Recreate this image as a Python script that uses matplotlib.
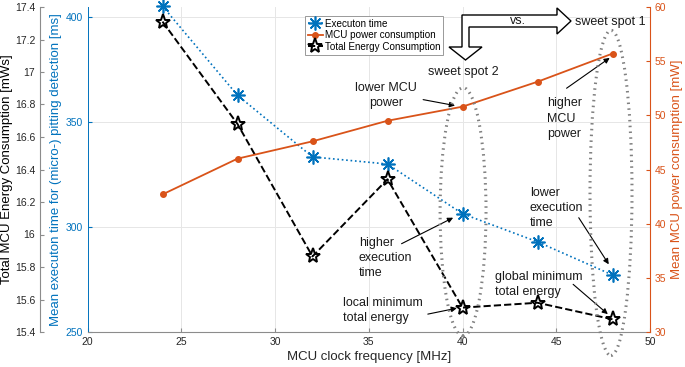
import numpy as np
import matplotlib
matplotlib.use("Agg")
import matplotlib.pyplot as plt
from matplotlib.patches import Ellipse, Polygon
from matplotlib.ticker import FormatStrFormatter

plt.rcParams['font.family'] = ['Liberation Sans', 'DejaVu Sans']

# --- dati ---
freq = [24, 28, 32, 36, 40, 44, 48]                                   # MHz
exec_time = [405.4, 362.9, 333.5, 330.1, 306.4, 293.0, 277.2]         # ms
power = [42.7, 46.0, 47.6, 49.5, 50.8, 53.1, 55.7]                    # mW
energy = [17.31, 16.68, 15.865, 16.34, 15.55, 15.58, 15.478]          # mWs

x_ticks = [20, 25, 30, 35, 40, 45, 50]
time_ticks = [250, 300, 350, 400]
power_ticks = [30, 35, 40, 45, 50, 55, 60]
energy_ticks = np.round(np.arange(15.4, 17.41, 0.2), 1)

BLUE = '#0072BD'
ORANGE = '#D95319'
GREY = '#262626'

fig = plt.figure(figsize=(6.85, 3.67), dpi=100)
ax = fig.add_axes([87.5 / 685, 35 / 367, 562.5 / 685, 325 / 367])

# asse principale: tempo di esecuzione
l1, = ax.plot(freq, exec_time, linestyle=':', color=BLUE, linewidth=1.2,
              marker=(8, 2, 0), markersize=10, markeredgewidth=1.2,
              clip_on=False, zorder=3, label='Executon time')
ax.set_xlim(20, 50)
ax.set_ylim(250, 405)
ax.set_xticks(x_ticks)
ax.set_yticks(time_ticks)
ax.grid(True, color='#e6e6e6', linewidth=0.7)
ax.set_axisbelow(True)
for s in ['top', 'right']:
    ax.spines[s].set_visible(False)
ax.spines['left'].set_color(BLUE)
ax.spines['left'].set_linewidth(0.7)
ax.spines['bottom'].set_color('#8c8c8c')
ax.spines['bottom'].set_linewidth(0.8)
ax.tick_params(axis='y', direction='in', colors=BLUE, labelsize=7.5, length=3)
ax.tick_params(axis='x', direction='in', colors='#8c8c8c', labelcolor=GREY,
               labelsize=7.5, length=3)
ax.set_ylabel('Mean executon time for (micro-) pitting detection [ms]',
              color=BLUE, fontsize=9.5, labelpad=2)
ax.set_xlabel('MCU clock frequency [MHz]', color=GREY, fontsize=9.5, labelpad=3)

# asse esterno: energia totale
ax_e = ax.twinx()
ax_e.spines['left'].set_position(('axes', -47.5 / 562.5))
ax_e.yaxis.set_ticks_position('left')
ax_e.yaxis.set_label_position('left')
for s in ['top', 'right', 'bottom']:
    ax_e.spines[s].set_visible(False)
ax_e.spines['left'].set_color('#8c8c8c')
ax_e.spines['left'].set_linewidth(0.8)
l3, = ax_e.plot(freq, energy, linestyle='--', color='k', linewidth=1.4,
                marker='*', markersize=11, markerfacecolor='none',
                markeredgewidth=1.4, clip_on=False, zorder=3,
                label='Total Energy Consumption')
ax_e.set_ylim(15.4, 17.4)
ax_e.set_yticks(energy_ticks)
ax_e.yaxis.set_major_formatter(FormatStrFormatter('%g'))
ax_e.tick_params(axis='y', direction='in', colors='#8c8c8c', labelcolor=GREY,
                 labelsize=7.5, length=3)
ax_e.set_ylabel('Total MCU Energy Consumption [mWs]', color='k',
                fontsize=9.5, labelpad=1)

# asse destro: potenza
ax_p = ax.twinx()
for s in ['top', 'left', 'bottom']:
    ax_p.spines[s].set_visible(False)
ax_p.spines['right'].set_color(ORANGE)
ax_p.spines['right'].set_linewidth(0.8)
l2, = ax_p.plot(freq, power, linestyle='-', color=ORANGE, linewidth=1.3,
                marker='o', markersize=4, zorder=3,
                label='MCU power consumption')
ax_p.set_ylim(30, 60)
ax_p.set_yticks(power_ticks)
ax_p.tick_params(axis='y', direction='in', colors=ORANGE, labelsize=7.5, length=3)
ax_p.set_ylabel('Mean MCU power consumption [mW]', color=ORANGE,
                fontsize=9.5, labelpad=3)

leg = ax_p.legend(handles=[l1, l2, l3], loc='upper left',
                  bbox_to_anchor=(300 / 685, 1 - 11 / 367),
                  bbox_transform=fig.transFigure, fontsize=7.1,
                  handlelength=1.5, handletextpad=0.2, borderpad=0.3,
                  labelspacing=0.15, fancybox=False, framealpha=1,
                  edgecolor='#999999')
leg.get_frame().set_linewidth(0.7)

# --- annotazioni ---
ell_kw = dict(fill=False, edgecolor='#808080', linewidth=2.2,
              linestyle=(0, (0.5, 1.4)), clip_on=False, zorder=4)
ax_p.add_patch(Ellipse((40.03, 41.1), 2.45, 22.9, **ell_kw))
ax_p.add_patch(Ellipse((47.92, 42.84), 2.24, 30.0, **ell_kw))

txt_kw = dict(fontsize=9, color='#1a1a1a')
arr = dict(arrowstyle='-|>', color='k', lw=0.8, mutation_scale=8,
           shrinkA=0, shrinkB=0)

ax_p.text(40.03, 54.0, 'sweet spot 2', ha='center', va='center', **txt_kw)
ax_p.text(47.87, 58.6, 'sweet spot 1', ha='center', va='center', **txt_kw)

ax_p.text(35.92, 51.85, 'lower MCU\npower', ha='center', va='center',
          linespacing=1.35, **txt_kw)
ax_p.annotate('', xy=(39.6, 50.9), xytext=(37.9, 51.45), arrowprops=arr)

ax_p.text(44.5, 49.7, 'higher\nMCU\npower', ha='left', va='center',
          linespacing=1.35, **txt_kw)
ax_p.annotate('', xy=(47.85, 55.3), xytext=(45.55, 52.5), arrowprops=arr)

ax_p.text(43.6, 41.45, 'lower\nexecution\ntime', ha='left', va='center',
          linespacing=1.35, **txt_kw)
ax_p.annotate('', xy=(47.8, 36.25), xytext=(46.2, 40.55), arrowprops=arr)

ax_p.text(34.48, 36.8, 'higher\nexecution\ntime', ha='left', va='center',
          linespacing=1.35, **txt_kw)
ax_p.annotate('', xy=(39.5, 40.55), xytext=(36.75, 38.15), arrowprops=arr)

ax_p.text(33.63, 31.95, 'local minimum\ntotal energy', ha='left', va='center',
          linespacing=1.35, **txt_kw)
ax_p.annotate('', xy=(39.7, 32.2), xytext=(38.15, 31.65), arrowprops=arr)

ax_p.text(41.73, 34.4, 'global minimum\ntotal energy', ha='left', va='center',
          linespacing=1.35, **txt_kw)
ax_p.annotate('', xy=(47.75, 31.65), xytext=(45.9, 34.4), arrowprops=arr)

# freccia piegata "sweet spot 2 vs. sweet spot 1" (coordinate in pixel)
over = fig.add_axes([0, 0, 1, 1], facecolor='none', zorder=10)
over.set_xlim(0, 685)
over.set_ylim(367, 0)
over.axis('off')
bent = [(462, 15), (557, 15), (557, 8), (571, 21), (557, 34), (557, 27),
        (469, 27), (469, 47), (482, 47), (465.5, 60), (449, 47), (462, 47)]
over.add_patch(Polygon(bent, closed=True, facecolor='white',
                       edgecolor='k', linewidth=1.0, zorder=1))
over.text(518, 21.5, 'vs.', ha='center', va='center', fontsize=9,
          color='#1a1a1a', zorder=2)

fig.savefig('out.png', dpi=100)
